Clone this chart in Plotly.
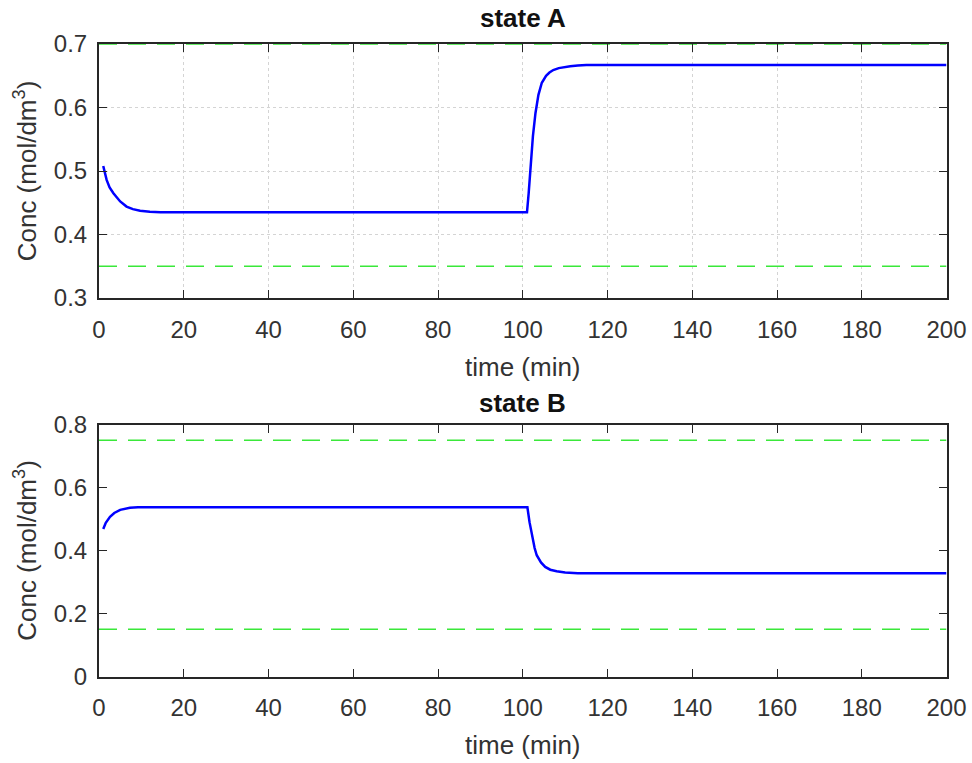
import plotly.graph_objects as go

# ---- data ----
t_A = [1, 1.8, 2.5, 3.4, 5, 6.5, 8, 9.7, 12, 14.5, 20, 100, 101, 101.4, 101.8, 102.4, 103, 103.7, 104.5,
       105.5, 106.3, 107.2, 108.5, 110, 111.2, 113, 115, 200]
c_A = [0.508, 0.486, 0.474, 0.465, 0.452, 0.444, 0.440, 0.4375, 0.436, 0.435, 0.435, 0.435, 0.435,
       0.465, 0.500, 0.555, 0.591, 0.620, 0.639, 0.650, 0.655, 0.659, 0.662, 0.664, 0.665, 0.666, 0.667, 0.667]
lim_A = [0.35, 0.70]

t_B = [1, 1.6, 2.6, 3.6, 5, 6, 7.3, 9.2, 12, 100, 101.1, 101.6, 102.2, 102.8, 103.3, 104.3, 105.3,
       106.5, 108, 110, 113, 200]
c_B = [0.468, 0.488, 0.507, 0.519, 0.529, 0.533, 0.536, 0.537, 0.537, 0.537, 0.537, 0.490,
       0.443, 0.408, 0.385, 0.362, 0.348, 0.339, 0.334, 0.330, 0.328, 0.328]
lim_B = [0.15, 0.75]

x_range = [0, 200]
x_ticks = list(range(0, 201, 20))
yA_ticks = [0.3, 0.4, 0.5, 0.6, 0.7]
yB_ticks = [0, 0.2, 0.4, 0.6, 0.8]
yB_ticktext = ["0", "0.2", "0.4", "0.6", "0.8"]

titles = ["state A", "state B"]
xlabel = "time (min)"
ylabel = "Conc (mol/dm<sup>3</sup>)"

BLUE = "#0000ff"
GREEN = "#3ae83a"
FONT = "Liberation Sans, Arial, sans-serif"
TXT = "#333333"

fig = go.Figure()

fig.add_trace(go.Scatter(x=t_A, y=c_A, mode="lines", line=dict(color=BLUE, width=2.5),
                         xaxis="x", yaxis="y", showlegend=False))
for v in lim_A:
    fig.add_trace(go.Scatter(x=x_range, y=[v, v], mode="lines",
                             line=dict(color=GREEN, width=1.6, dash="18px,11px"),
                             xaxis="x", yaxis="y", showlegend=False))
fig.add_trace(go.Scatter(x=t_B, y=c_B, mode="lines", line=dict(color=BLUE, width=2.5),
                         xaxis="x2", yaxis="y2", showlegend=False))
for v in lim_B:
    fig.add_trace(go.Scatter(x=x_range, y=[v, v], mode="lines",
                             line=dict(color=GREEN, width=1.6, dash="18px,11px"),
                             xaxis="x2", yaxis="y2", showlegend=False))

W, H = 972, 763
xdom = [99 / W, 946.5 / W]
domA = [1 - 298 / H, 1 - 44 / H]
domB = [1 - 676.5 / H, 1 - 424.5 / H]

title_font = dict(family=FONT, size=26, color=TXT)
axis_common = dict(showline=True, linecolor="#262626", linewidth=2, mirror="allticks",
                   ticks="inside", ticklen=8, tickcolor="#262626", tickwidth=1,
                   tickfont=dict(family=FONT, size=24, color=TXT), zeroline=False,
                   automargin=False)
xaxis_common = dict(axis_common, ticklabelstandoff=9,
                    title=dict(text=xlabel, font=title_font, standoff=16))
yaxis_common = dict(axis_common, ticklabelstandoff=5,
                    title=dict(text=ylabel, font=title_font, standoff=10))

fig.update_layout(
    width=W, height=H, margin=dict(l=0, r=0, t=0, b=0, autoexpand=False),
    plot_bgcolor="white", paper_bgcolor="white", showlegend=False,
    xaxis=dict(domain=xdom, anchor="y", range=x_range, tickvals=x_ticks,
               showgrid=True, gridcolor="#d4d4d4", griddash="dot", gridwidth=1,
               **xaxis_common),
    yaxis=dict(domain=domA, anchor="x", range=[0.3, 0.7], tickvals=yA_ticks,
               tickformat=".1f",
               showgrid=True, gridcolor="#d4d4d4", griddash="dot", gridwidth=1,
               **yaxis_common),
    xaxis2=dict(domain=xdom, anchor="y2", range=x_range, tickvals=x_ticks, showgrid=False,
                **xaxis_common),
    yaxis2=dict(domain=domB, anchor="x2", range=[0, 0.8], tickvals=yB_ticks,
                ticktext=yB_ticktext, showgrid=False,
                **yaxis_common),
)

xc = (xdom[0] + xdom[1]) / 2
ann = [
    dict(text="<b>%s</b>" % titles[0], x=xc, y=1 - 18 / H, xref="paper", yref="paper",
         showarrow=False, font=dict(family=FONT, size=26, color="#111111"), yanchor="middle"),
    dict(text="<b>%s</b>" % titles[1], x=xc, y=1 - 403 / H, xref="paper", yref="paper",
         showarrow=False, font=dict(family=FONT, size=26, color="#111111"), yanchor="middle"),
]
fig.update_layout(annotations=ann)

fig.write_html("out.html")
